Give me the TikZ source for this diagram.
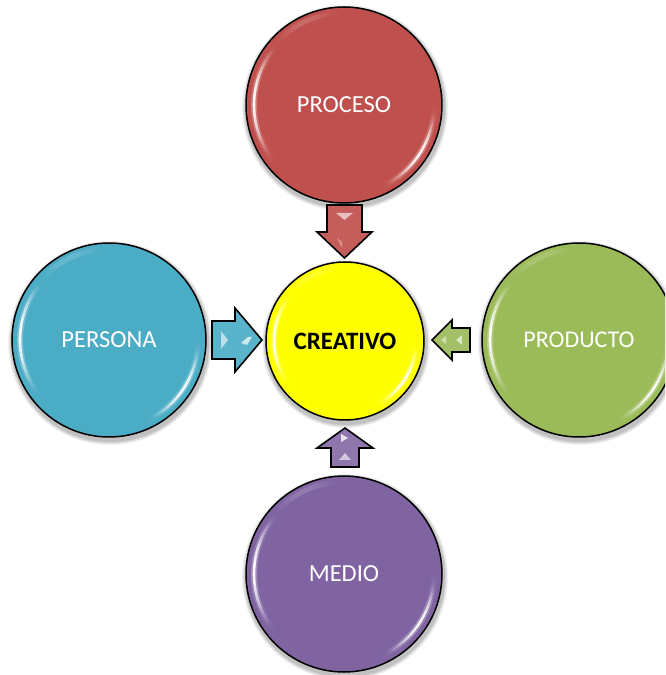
\documentclass[tikz,border=0pt]{standalone}
\usepackage{fontspec}
\setmainfont{Carlito}
\usetikzlibrary{calc}
\definecolor{cred}{HTML}{C0504D}
\definecolor{cblue}{HTML}{4BACC6}
\definecolor{cgreen}{HTML}{9BBB59}
\definecolor{cpurple}{HTML}{8064A2}
\definecolor{cyellow}{HTML}{FFFF00}
\tikzset{
  ball/.style={circle, draw=black, line width=1.5pt, inner sep=0pt, text=white,
    font=\fontsize{24.5}{28}\selectfont},
  blk/.style={draw=black, line width=1.6pt, line join=miter},
  glint/.style={white, line cap=butt},
  spark/.style={white, opacity=0.6},
}
% soft highlight arc: name, radius, start, end, width, max opacity
\newcommand\softarc[6]{%
  \foreach \k in {0,...,29}{
    \pgfmathsetmacro\aa{#3+(#4-#3)*\k/30}
    \pgfmathsetmacro\bb{#3+(#4-#3)*(\k+1)/30}
    \pgfmathsetmacro\oo{#6*sin(180*(\k+0.5)/30)^1.5}
    \draw[glint, line width=#5, opacity=\oo] ([shift={(\aa:#2)}]#1.center)
      arc[start angle=\aa, end angle=\bb, radius=#2];
  }
}
\newcommand\myball[7]{% name, x, y, r, color, text, extra
  \foreach \s/\o in {5/0.05,4/0.06,3/0.07,2/0.08}{
    \fill[black, opacity=\o] (#2+1, #3-3) circle[radius=#4pt+\s pt];
  }
  \node[ball, minimum size=2*#4pt, fill=#5, #7] (#1) at (#2,#3) {#6};
  \softarc{#1}{#4pt-8pt}{135}{222}{6pt}{0.25}
  \softarc{#1}{#4pt-8pt}{140}{216}{2.6pt}{0.95}
  \softarc{#1}{#4pt-8pt}{-68}{2}{6pt}{0.25}
  \softarc{#1}{#4pt-8pt}{-62}{-4}{2.4pt}{0.95}
  \softarc{#1}{#4pt-6pt}{92}{140}{5pt}{0.15}
}
\begin{document}
\begin{tikzpicture}[x=1pt, y=1pt]
\fill[white] (0,0) rectangle (665,675);
\useasboundingbox (0,0) rectangle (665,675);
\clip (0,0) rectangle (665,675);

\myball{proceso}{344}{570}{98}{cred}{PROCESO}{}
\myball{persona}{109}{335}{97}{cblue}{PERSONA}{}
\myball{producto}{579}{335}{97}{cgreen}{PRODUCTO}{font=\fontsize{24}{28}\selectfont}
\myball{medio}{344}{101}{98}{cpurple}{MEDIO}{}
\myball{creativo}{345}{334}{79}{cyellow}{CREATIVO}{text=black, font=\fontsize{25}{28}\selectfont\bfseries}

% top arrow (down)
\draw[blk, fill=cred!92!white] (327,470) -- (362,470) -- (362,443) -- (372,443)
  -- (344.5,417) -- (317,443) -- (327,443) -- cycle;
\fill[spark] (336,462) -- (353,462) -- (344.5,455) -- cycle;
\fill[white, opacity=0.35] (337,437) -- (342,433) -- (342,427) -- cycle;

% left arrow (right)
\draw[blk, fill=cblue!92!white] (212,354) -- (235,354) -- (235,367) -- (262,335)
  -- (235,303) -- (235,316) -- (212,316) -- cycle;
\fill[spark] (221,344) -- (228,335) -- (221,326) -- cycle;
\fill[white, opacity=0.7] (241,332) -- (248,338) -- (252,338) -- (247,330) -- cycle;

% right arrow (left)
\draw[blk, fill=cgreen!92!white] (470,347) -- (452,347) -- (452,355) -- (432,335)
  -- (452,315) -- (452,323) -- (470,323) -- cycle;
\fill[spark] (462,330) -- (456,335) -- (462,340) -- cycle;
\fill[white, opacity=0.45] (441,335) -- (446,331) -- (446,339) -- cycle;

% bottom arrow (up)
\draw[blk, fill=cpurple!88!white] (331,208) -- (359,208) -- (359,227) -- (373,227)
  -- (345,247) -- (317,227) -- (331,227) -- cycle;
\fill[spark] (339,215) -- (351,215) -- (345,222) -- cycle;
\fill[white, opacity=0.8] (341,233) -- (341,241) -- (348,237) -- cycle;
\end{tikzpicture}
\end{document}
